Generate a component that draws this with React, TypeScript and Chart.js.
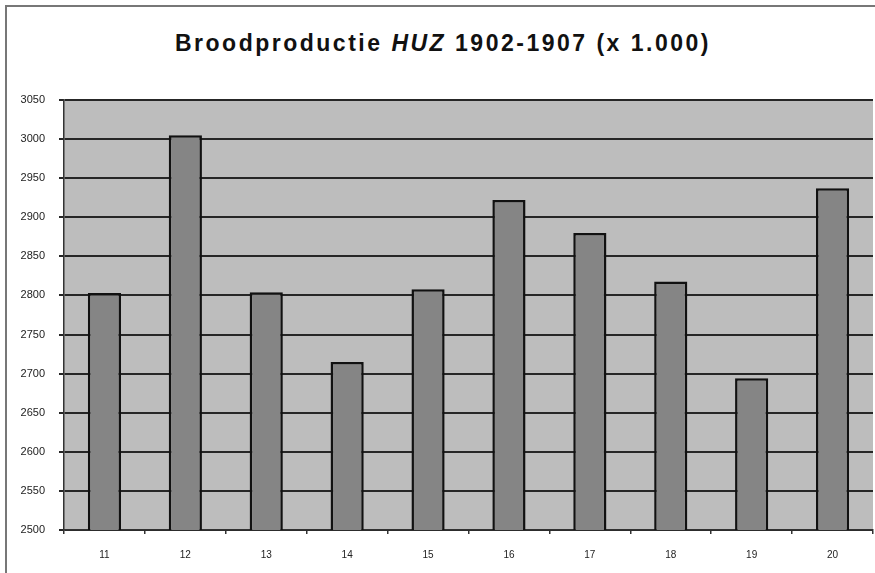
import React, { useEffect, useRef } from "react";
import { Chart, registerables } from "chart.js";

Chart.register(...registerables);

const categories = ["11", "12", "13", "14", "15", "16", "17", "18", "19", "20"];
const production = [2803, 3005, 2804, 2715, 2808, 2922, 2880, 2818, 2694, 2937];
const yMin = 2500;
const yMax = 3050;
const yStep = 50;

const plotBg = {
  id: "plotBg",
  beforeDraw(chart: any) {
    const { ctx, chartArea } = chart;
    ctx.save();
    ctx.fillStyle = "#bdbdbd";
    ctx.fillRect(chartArea.left, chartArea.top, chartArea.right - chartArea.left, chartArea.bottom - chartArea.top);
    ctx.restore();
  },
};

export default function App() {
  const ref = useRef<HTMLCanvasElement | null>(null);
  useEffect(() => {
    if (!ref.current) return;
    const chart = new Chart(ref.current, {
      type: "bar",
      data: {
        labels: categories,
        datasets: [
          {
            data: production,
            backgroundColor: "#858585",
            borderColor: "#111",
            borderWidth: 2.5,
            barPercentage: 0.41,
            categoryPercentage: 1,
          },
        ],
      },
      options: {
        responsive: false,
        animation: false,
        layout: { padding: { top: 100, right: 2, left: 0, bottom: 0 } },
        plugins: { legend: { display: false }, title: { display: false }, tooltip: { enabled: false } },
        scales: {
          x: {
            grid: { drawOnChartArea: false, color: "#333", lineWidth: 1.5, tickLength: 4, offset: true },
            border: { color: "#333", width: 1.5 },
            ticks: { color: "#222", font: { family: "Arial, 'Liberation Sans'", size: 10 }, padding: 15 },
            afterFit: (s: any) => { s.height = 43; },
          },
          y: {
            min: yMin,
            max: yMax,
            grid: { color: "#262626", lineWidth: 2, tickLength: 5 },
            border: { color: "#333", width: 1.5 },
            ticks: {
              stepSize: yStep,
              color: "#222",
              font: { family: "Arial, 'Liberation Sans'", size: 11 },
              padding: 14,
              callback: (v: any) => String(v),
            },
            afterFit: (s: any) => { s.width = 64; },
          },
        },
      },
      plugins: [plotBg],
    });
    return () => chart.destroy();
  }, []);
  return (
    <div style={{ position: "fixed", left: 0, top: 0, width: 875, height: 573, background: "#fff" }}>
      <div style={{ position: "absolute", left: 5, top: 5, width: 870, height: 568, borderTop: "2px solid #777", borderLeft: "2px solid #777" }} />
      <div
        style={{
          position: "absolute",
          left: 0,
          width: 886,
          top: 30,
          textAlign: "center",
          fontFamily: "Arial, 'Liberation Sans', sans-serif",
          fontWeight: "bold",
          fontSize: 23,
          letterSpacing: 2.5,
          color: "#111",
          whiteSpace: "nowrap",
        }}
      >
        Broodproductie <i>HUZ</i> 1902-1907 (x 1.000)
      </div>
      <canvas ref={ref} width={875} height={573} style={{ position: "absolute", left: 0, top: 0 }} />
    </div>
  );
}
